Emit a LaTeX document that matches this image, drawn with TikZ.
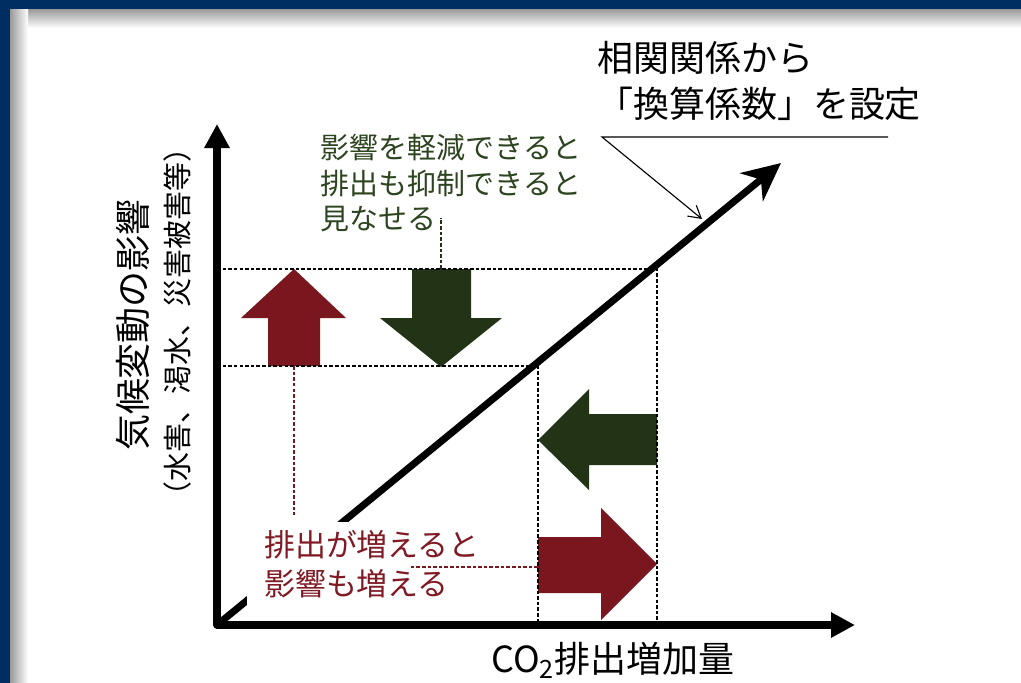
\documentclass[tikz,border=0pt]{standalone}
\usepackage{fontspec}
\setmainfont{Noto Sans CJK JP}
\usetikzlibrary{arrows.meta, positioning}
\definecolor{frameblue}{RGB}{0,45,98}
\definecolor{risered}{RGB}{122,22,30}
\definecolor{cutgreen}{RGB}{35,52,22}
\definecolor{notegreen}{RGB}{45,68,32}
\definecolor{notered}{RGB}{128,26,36}
\tikzset{
  axisline/.style={line width=5pt, line join=round,
                   {Triangle[length=0.6cm, width=0.6cm]}-{Triangle[length=0.6cm, width=0.6cm]}},
  trend/.style={line width=5pt, -{Stealth[length=0.95cm, width=0.9cm, inset=0.3cm]}},
  guide/.style={dashed, dash pattern=on 2.5pt off 1.5pt, line width=0.9pt},
  redguide/.style={guide, risered},
  greenguide/.style={guide, cutgreen},
  pointer/.style={line width=0.8pt, -{Straight Barb[length=0.3cm, width=0.35cm]}},
  bigtext/.style={font=\fontsize{25.6}{32.7}\selectfont, inner sep=0pt},
  subtext/.style={font=\fontsize{20.6}{24}\selectfont, inner sep=0pt},
  greennote/.style={font=\fontsize{20.6}{24.9}\selectfont, text=notegreen,
                    align=left, inner sep=0pt},
  rednote/.style={font=\fontsize{22}{27.5}\selectfont, text=notered,
                  align=left, fill=white, inner xsep=12pt, inner ysep=6pt},
}

\begin{document}
\begin{tikzpicture}[x=0.025cm, y=-0.025cm]
  \useasboundingbox (0,0) rectangle (1021,683);
  % frame with shadow
  \fill[white] (0,0) rectangle (1021,683);
  \shade[top color=black!40, bottom color=white] (10,9) rectangle (1021,28);
  \shade[left color=black!40, right color=white] (10,9) rectangle (28,683);
  \fill[frameblue] (0,0) rectangle (1021,9);
  \fill[frameblue] (0,0) rectangle (10,683);

  % axes and levels
  \coordinate (origin) at (217,625);
  \coordinate (ytip) at (217,124);
  \coordinate (xtip) at (855,625);
  \coordinate (slopetip) at (781,163);
  \coordinate (hiL) at (217,269);
  \coordinate (hiR) at (657,269);
  \coordinate (loL) at (217,366);
  \coordinate (loR) at (538,366);
  \coordinate (hiB) at (657,625);
  \coordinate (loB) at (538,625);

  % block arrows
  \fill[risered] (294,269) -- (346,318) -- (320,318) -- (320,366)
    -- (268,366) -- (268,318) -- (241,318) -- cycle;
  \fill[cutgreen] (412,269) -- (471,269) -- (471,318) -- (502,318)
    -- (441,367) -- (380,318) -- (412,318) -- cycle;
  \fill[cutgreen] (538,440) -- (589,389) -- (589,414) -- (657,414)
    -- (657,465) -- (589,465) -- (589,490) -- cycle;
  \fill[risered] (538,537) -- (601,537) -- (601,508) -- (657,564)
    -- (601,620) -- (601,593) -- (538,593) -- cycle;

  % guides
  \draw[guide] (hiL) -- (hiR) -- (hiB);
  \draw[guide] (loL) -- (loR) -- (loB);

  \draw[trend] (origin) -- (slopetip);
  \draw[axisline] (ytip) -- (origin) -- (xtip);

  % notes
  \node[rednote] (risenote) at (372,564) {排出が増えると\\影響も増える};
  \node[greennote] (cutnote) at (451,183) {影響を軽減できると\\排出も抑制できると\\見なせる};
  \coordinate (upfoot) at (294,366);
  \coordinate (upend) at (294,515);
  \coordinate (downtop) at (441,269);
  \coordinate (downend) at (441,218);
  \coordinate (rightfoot) at (538,567);
  \coordinate (rightend) at (410,567);
  \draw[redguide] (upfoot) -- (upend);
  \draw[redguide] (rightfoot) -- (rightend);
  \draw[greenguide] (downtop) -- (downend);

  \node[bigtext, align=left] (coeftext) at (759,81) {相関関係から\\「換算係数」を設定};
  \coordinate (lead) at (602,137);
  \coordinate (leadend) at (888,137);
  \coordinate (leadtip) at (702,219);
  \draw[pointer] (leadend) -- (lead) -- (leadtip);

  \node[bigtext, rotate=90] (ylabel) at (133,325) {気候変動の影響};
  \node[subtext, rotate=90] (ylabelsub) at (177,322) {（水害、渇水、災害被害等）};
  \node[bigtext] (xlabel) at (613,660) {CO\textsubscript{2}排出増加量};
\end{tikzpicture}
\end{document}
